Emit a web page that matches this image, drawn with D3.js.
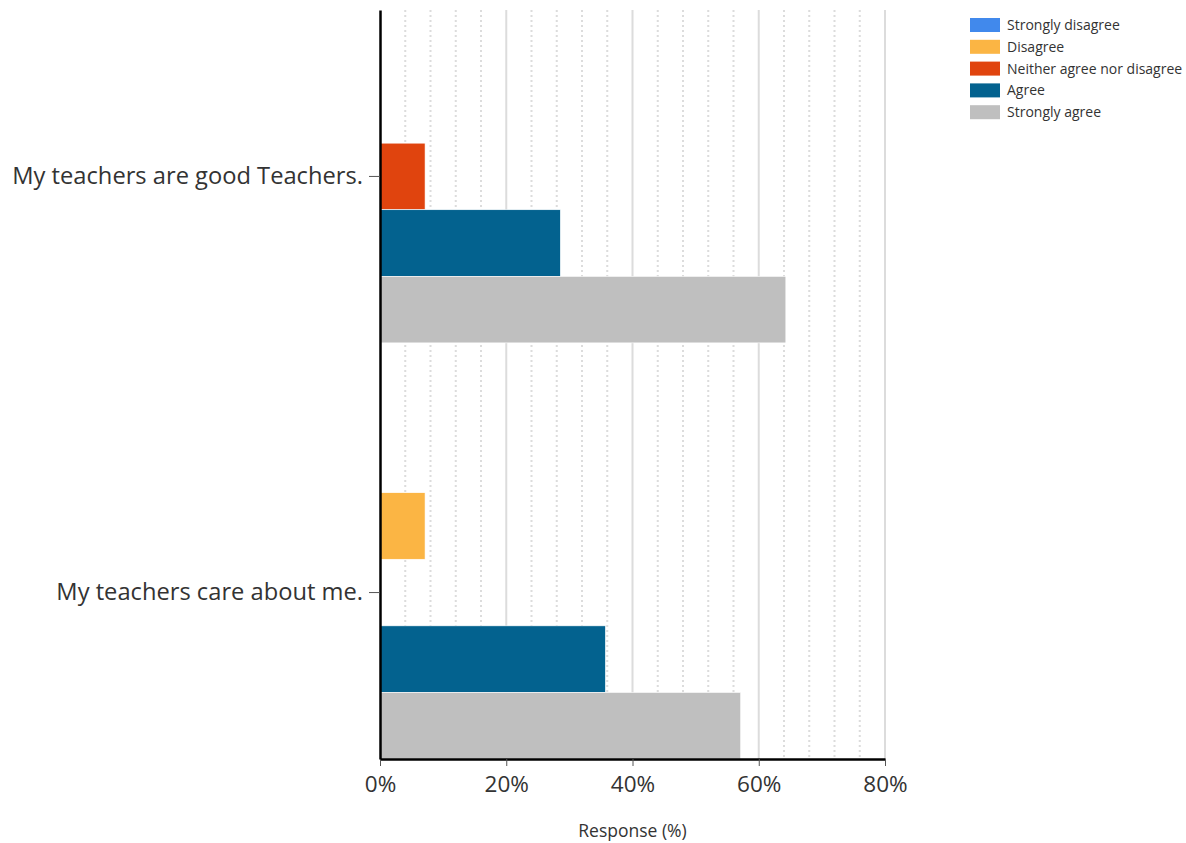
<!DOCTYPE html>
<html>
<head>
<meta charset="utf-8">
<script src="https://cdn.jsdelivr.net/npm/d3@7"></script>
<style>
  body { margin: 0; background: #fff; }
  text { font-family: "Open Sans", "Noto Sans", sans-serif; fill: #333; }
</style>
</head>
<body>
<div id="chart"></div>
<script>
const questions = ["My teachers are good Teachers.", "My teachers care about me."];
const responses = ["Strongly disagree", "Disagree", "Neither agree nor disagree", "Agree", "Strongly agree"];
const colors = ["#4189ec", "#fbb544", "#e0440e", "#03628f", "#bfbfbf"];
// percent per question, in the order of responses
const goodTeachers = [0, 0, 7.14, 28.57, 64.29];
const careAboutMe = [0, 7.14, 0, 35.71, 57.14];
const xTicks = [0, 20, 40, 60, 80];

const w = 1186, h = 843;
const margin = { t: 10, r: 301, b: 84, l: 380 };

const svg = d3.select("#chart").append("svg").attr("width", w).attr("height", h);

const xScale = d3.scaleLinear().domain([0, 80]).range([margin.l, w - margin.r]);
const yScale = d3.scaleBand().domain(questions)
	.range([margin.t, h - margin.b])
	.paddingInner(0.2).paddingOuter(0);
const inner = d3.scaleBand().domain(responses).range([0, yScale.bandwidth()]);

// grid
const minor = d3.range(0, 81, 4).filter(d => d % 20 !== 0);
svg.append("g").selectAll("line").data(minor).join("line")
	.attr("x1", d => xScale(d)).attr("x2", d => xScale(d))
	.attr("y1", margin.t).attr("y2", h - margin.b)
	.attr("stroke", "#dcdcdc").attr("stroke-width", 2).attr("stroke-dasharray", "2,3");
svg.append("g").selectAll("line").data(xTicks.slice(1)).join("line")
	.attr("x1", d => xScale(d)).attr("x2", d => xScale(d))
	.attr("y1", margin.t).attr("y2", h - margin.b)
	.attr("stroke", "#dcdcdc").attr("stroke-width", 2);

// bars
const rows = [goodTeachers, careAboutMe];
const groups = svg.append("g").selectAll("g").data(questions).join("g")
	.attr("transform", d => `translate(0, ${yScale(d)})`);
groups.selectAll("rect")
	.data((q, i) => responses.map((r, j) => ({ r, v: rows[i][j], c: colors[j] })))
	.join("rect")
	.attr("x", xScale(0))
	.attr("y", d => inner(d.r))
	.attr("width", d => xScale(d.v) - xScale(0))
	.attr("height", inner.bandwidth())
	.attr("fill", d => d.c)
	.attr("stroke", "#fff").attr("stroke-width", 0.6);

// axes
const xAxisG = svg.append("g")
	.attr("transform", `translate(0, ${h - margin.b})`)
	.call(d3.axisBottom(xScale).tickValues(xTicks).tickFormat(d => d + "%").tickSize(7).tickSizeOuter(0));
xAxisG.select(".domain").attr("stroke", "#000").attr("stroke-width", 2.5);
xAxisG.selectAll(".tick line").attr("stroke", "#555");
xAxisG.selectAll(".tick text").attr("font-size", 22.5).attr("dy", "1.0em").attr("fill", "#333");

const yAxisG = svg.append("g")
	.attr("transform", `translate(${margin.l}, 0)`)
	.call(d3.axisLeft(yScale).tickSize(11).tickSizeOuter(0).tickPadding(6));
yAxisG.select(".domain").attr("stroke", "#000").attr("stroke-width", 2.5);
yAxisG.selectAll(".tick line").attr("stroke", "#555");
yAxisG.selectAll(".tick text").attr("font-size", 23.7).attr("fill", "#333");

svg.append("text")
	.attr("x", (xScale(0) + xScale(80)) / 2).attr("y", 837)
	.attr("text-anchor", "middle").attr("font-size", 17.5)
	.text("Response (%)");

// legend
const legend = svg.append("g").attr("transform", "translate(970, 18)");
const items = legend.selectAll("g").data(responses).join("g")
	.attr("transform", (d, i) => `translate(0, ${i * 21.8})`);
items.append("rect").attr("width", 30).attr("height", 14)
	.attr("fill", (d, i) => colors[i]);
items.append("text").attr("x", 37).attr("y", 12).attr("font-size", 14)
	.attr("fill", "#222").text(d => d);
</script>
</body>
</html>
